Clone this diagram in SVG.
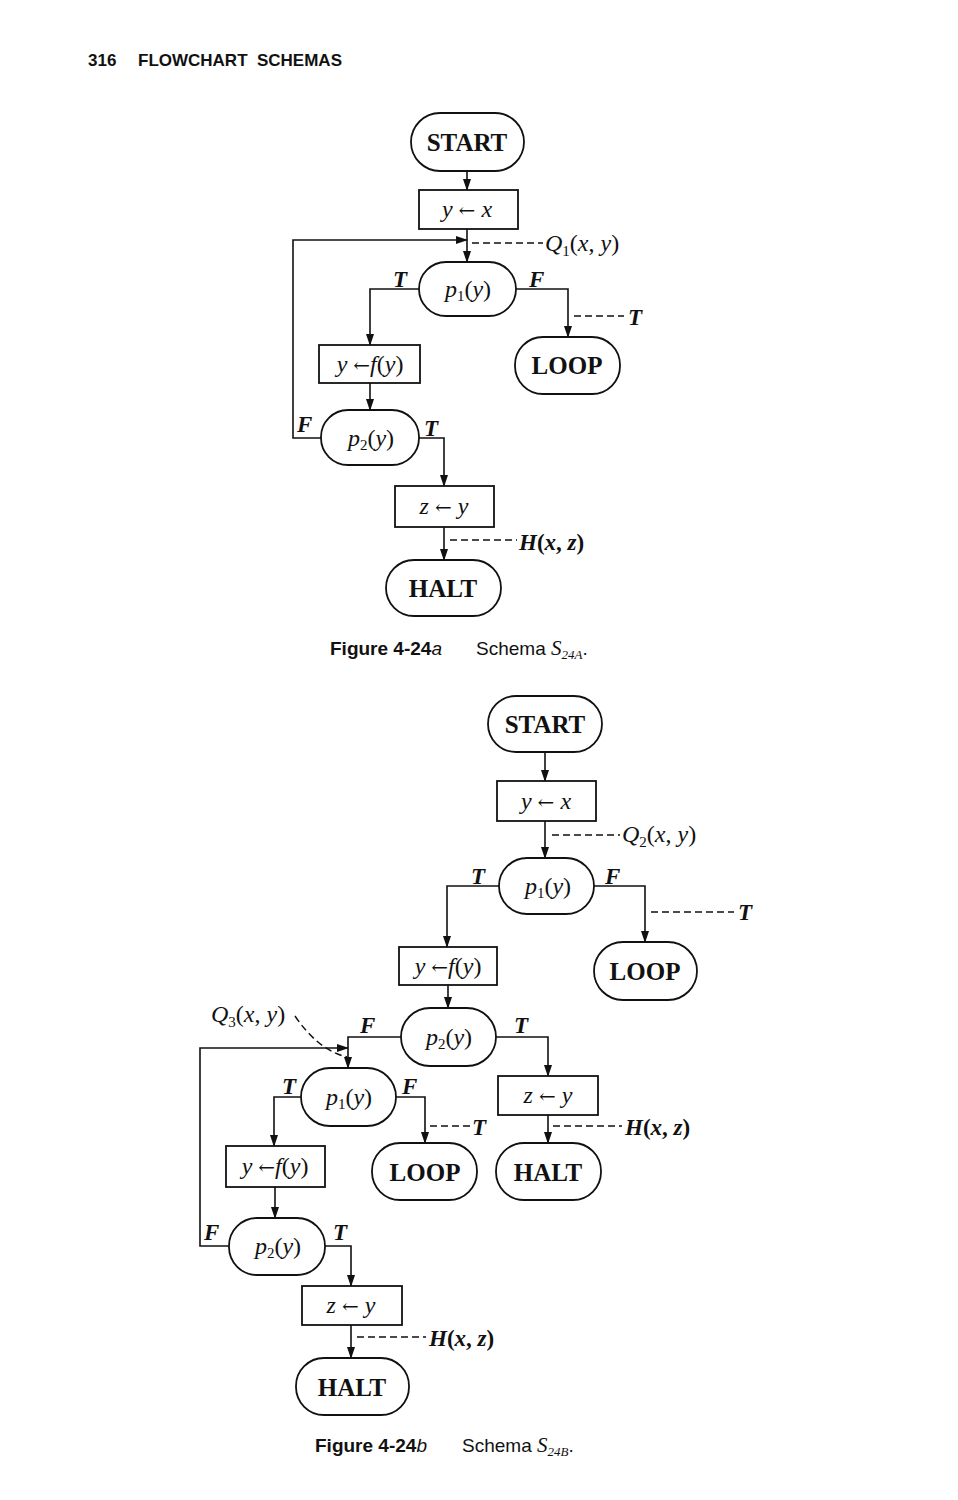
<svg xmlns="http://www.w3.org/2000/svg" width="958" height="1500" viewBox="0 0 958 1500">
<defs>
<marker id="arr" markerUnits="userSpaceOnUse" markerWidth="12" markerHeight="8" refX="11" refY="4" orient="auto">
<path d="M0,0 L12,4 L0,8 z" fill="#111"/>
</marker>
<style>
rect{fill:#fff;stroke:#111;stroke-width:1.8}
.c{fill:none;stroke:#111;stroke-width:1.6}
.d{fill:none;stroke:#111;stroke-width:1.5;stroke-dasharray:7,4}
.t{font-family:"Liberation Serif",serif;font-size:25px;font-weight:bold;fill:#111;text-anchor:middle}
.m{font-family:"Liberation Serif",serif;font-size:24px;font-style:italic;fill:#111;text-anchor:middle}
.l{font-family:"Liberation Serif",serif;font-size:23px;font-style:italic;font-weight:bold;fill:#111}
.a{font-family:"Liberation Serif",serif;font-size:24px;font-style:italic;fill:#111}
.n{font-style:normal}
.s{font-style:normal;font-size:15px}
.ar{font-family:"DejaVu Serif",serif;font-style:normal;font-weight:normal;font-size:20px}
.cap{font-family:"Liberation Sans",sans-serif;font-size:19px;fill:#111}
.hd{font-family:"Liberation Sans",sans-serif;font-size:17px;font-weight:bold;fill:#111}
</style>
</defs>
<text class="hd" x="88" y="66">316</text>
<text class="hd" x="138" y="66" xml:space="preserve">FLOWCHART  SCHEMAS</text>

<!-- Figure a -->
<g id="a-connectors">
<path class="c" d="M467,171 V190" marker-end="url(#arr)"/>
<path class="c" d="M467,229 V262" marker-end="url(#arr)"/>
<path class="c" d="M321,438 H293 V240 H467" marker-end="url(#arr)"/>
<path class="c" d="M419,289 H370 V345" marker-end="url(#arr)"/>
<path class="c" d="M516,289 H568 V337" marker-end="url(#arr)"/>
<path class="c" d="M370,383 V410" marker-end="url(#arr)"/>
<path class="c" d="M419,438 H444 V486" marker-end="url(#arr)"/>
<path class="c" d="M444,527 V560" marker-end="url(#arr)"/>
<path class="d" d="M472,243 H543"/>
<path class="d" d="M574,316 H624"/>
<path class="d" d="M450,540 H517"/>
<text class="l" x="393" y="287">T</text>
<text class="l" x="529" y="287">F</text>
<text class="l" x="297" y="432">F</text>
<text class="l" x="424" y="436">T</text>
<text class="a" x="545" y="251">Q<tspan class="s" dy="5">1</tspan><tspan dy="-5" class="n">(</tspan>x<tspan class="n">, </tspan>y<tspan class="n">)</tspan></text>
<text class="l" x="628" y="325">T</text>
<text class="l" x="519" y="550">H<tspan class="n">(</tspan>x<tspan class="n">, </tspan>z<tspan class="n">)</tspan></text>
</g>
<g id="a-start"><rect x="411" y="113" width="113" height="58" rx="29"/><text class="t" x="467" y="151">START</text></g>
<g id="a-yx"><rect x="419" y="190" width="99" height="39" rx="0"/><text class="m" x="467" y="217">y <tspan class="ar">←</tspan> x</text></g>
<g id="a-p1"><rect x="419" y="262" width="97" height="54" rx="27"/><text class="m" x="468" y="297">p<tspan class="s" dy="4">1</tspan><tspan dy="-4" class="n">(</tspan>y<tspan class="n">)</tspan></text></g>
<g id="a-loop"><rect x="515" y="337" width="105" height="57" rx="28"/><text class="t" x="567" y="374">LOOP</text></g>
<g id="a-fy"><rect x="319" y="345" width="101" height="38" rx="0"/><text class="m" x="370" y="372">y <tspan class="ar">←</tspan>f<tspan class="n">(</tspan>y<tspan class="n">)</tspan></text></g>
<g id="a-p2"><rect x="321" y="410" width="98" height="55" rx="27"/><text class="m" x="371" y="446">p<tspan class="s" dy="4">2</tspan><tspan dy="-4" class="n">(</tspan>y<tspan class="n">)</tspan></text></g>
<g id="a-zy"><rect x="395" y="486" width="99" height="41" rx="0"/><text class="m" x="444" y="514">z <tspan class="ar">←</tspan> y</text></g>
<g id="a-halt"><rect x="386" y="560" width="115" height="56" rx="28"/><text class="t" x="443" y="597">HALT</text></g>
<text class="cap" x="330" y="655"><tspan font-weight="bold">Figure 4-24</tspan><tspan font-style="italic">a</tspan></text>
<text class="cap" x="476" y="655">Schema <tspan font-family="Liberation Serif, serif" font-style="italic" font-size="21">S</tspan><tspan font-family="Liberation Serif, serif" font-style="italic" font-size="13" dy="4">24A</tspan><tspan dy="-4">.</tspan></text>

<!-- Figure b -->
<g id="b-connectors">
<path class="c" d="M545,752 V781" marker-end="url(#arr)"/>
<path class="c" d="M545,821 V858" marker-end="url(#arr)"/>
<path class="c" d="M499,886 H447 V947" marker-end="url(#arr)"/>
<path class="c" d="M594,886 H645 V942" marker-end="url(#arr)"/>
<path class="c" d="M448,985 V1008" marker-end="url(#arr)"/>
<path class="c" d="M401,1037 H348 V1068" marker-end="url(#arr)"/>
<path class="c" d="M496,1037 H548 V1076" marker-end="url(#arr)"/>
<path class="c" d="M229,1246 H200 V1048 H348" marker-end="url(#arr)"/>
<path class="c" d="M301,1097 H274 V1146" marker-end="url(#arr)"/>
<path class="c" d="M396,1097 H425 V1143" marker-end="url(#arr)"/>
<path class="c" d="M548,1115 V1143" marker-end="url(#arr)"/>
<path class="c" d="M275,1187 V1218" marker-end="url(#arr)"/>
<path class="c" d="M325,1246 H351 V1286" marker-end="url(#arr)"/>
<path class="c" d="M351,1325 V1358" marker-end="url(#arr)"/>
<path class="d" d="M552,835 H620"/>
<path class="d" d="M651,912 H734"/>
<path class="d" d="M430,1126 H472"/>
<path class="d" d="M553,1126 H622"/>
<path class="d" d="M357,1337 H426"/>
<path class="d" d="M295,1016 Q318,1050 347,1057"/>
<text class="l" x="471" y="884">T</text>
<text class="l" x="605" y="884">F</text>
<text class="l" x="360" y="1033">F</text>
<text class="l" x="514" y="1033">T</text>
<text class="l" x="282" y="1094">T</text>
<text class="l" x="402" y="1094">F</text>
<text class="l" x="204" y="1240">F</text>
<text class="l" x="333" y="1240">T</text>
<text class="a" x="622" y="842">Q<tspan class="s" dy="5">2</tspan><tspan dy="-5" class="n">(</tspan>x<tspan class="n">, </tspan>y<tspan class="n">)</tspan></text>
<text class="a" x="211" y="1022">Q<tspan class="s" dy="5">3</tspan><tspan dy="-5" class="n">(</tspan>x<tspan class="n">, </tspan>y<tspan class="n">)</tspan></text>
<text class="l" x="738" y="920">T</text>
<text class="l" x="472" y="1135">T</text>
<text class="l" x="625" y="1135">H<tspan class="n">(</tspan>x<tspan class="n">, </tspan>z<tspan class="n">)</tspan></text>
<text class="l" x="429" y="1346">H<tspan class="n">(</tspan>x<tspan class="n">, </tspan>z<tspan class="n">)</tspan></text>
</g>
<g id="b-start"><rect x="488" y="696" width="114" height="56" rx="28"/><text class="t" x="545" y="733">START</text></g>
<g id="b-yx"><rect x="497" y="781" width="99" height="40" rx="0"/><text class="m" x="546" y="809">y <tspan class="ar">←</tspan> x</text></g>
<g id="b-p1"><rect x="499" y="858" width="95" height="56" rx="28"/><text class="m" x="548" y="894">p<tspan class="s" dy="4">1</tspan><tspan dy="-4" class="n">(</tspan>y<tspan class="n">)</tspan></text></g>
<g id="b-loop1"><rect x="594" y="942" width="103" height="58" rx="29"/><text class="t" x="645" y="980">LOOP</text></g>
<g id="b-fy1"><rect x="399" y="947" width="98" height="38" rx="0"/><text class="m" x="448" y="974">y <tspan class="ar">←</tspan>f<tspan class="n">(</tspan>y<tspan class="n">)</tspan></text></g>
<g id="b-p2"><rect x="401" y="1008" width="95" height="58" rx="29"/><text class="m" x="449" y="1045">p<tspan class="s" dy="4">2</tspan><tspan dy="-4" class="n">(</tspan>y<tspan class="n">)</tspan></text></g>
<g id="b-p1b"><rect x="301" y="1068" width="95" height="58" rx="29"/><text class="m" x="349" y="1105">p<tspan class="s" dy="4">1</tspan><tspan dy="-4" class="n">(</tspan>y<tspan class="n">)</tspan></text></g>
<g id="b-zy1"><rect x="498" y="1076" width="100" height="39" rx="0"/><text class="m" x="548" y="1103">z <tspan class="ar">←</tspan> y</text></g>
<g id="b-loop2"><rect x="372" y="1143" width="105" height="57" rx="28"/><text class="t" x="425" y="1181">LOOP</text></g>
<g id="b-halt1"><rect x="496" y="1143" width="105" height="57" rx="28"/><text class="t" x="548" y="1181">HALT</text></g>
<g id="b-fy2"><rect x="226" y="1146" width="99" height="41" rx="0"/><text class="m" x="275" y="1174">y <tspan class="ar">←</tspan>f<tspan class="n">(</tspan>y<tspan class="n">)</tspan></text></g>
<g id="b-p2b"><rect x="229" y="1218" width="96" height="57" rx="28"/><text class="m" x="278" y="1254">p<tspan class="s" dy="4">2</tspan><tspan dy="-4" class="n">(</tspan>y<tspan class="n">)</tspan></text></g>
<g id="b-zy2"><rect x="302" y="1286" width="100" height="39" rx="0"/><text class="m" x="351" y="1313">z <tspan class="ar">←</tspan> y</text></g>
<g id="b-halt2"><rect x="296" y="1358" width="113" height="57" rx="28"/><text class="t" x="352" y="1396">HALT</text></g>
<text class="cap" x="315" y="1452"><tspan font-weight="bold">Figure 4-24</tspan><tspan font-style="italic">b</tspan></text>
<text class="cap" x="462" y="1452">Schema <tspan font-family="Liberation Serif, serif" font-style="italic" font-size="21">S</tspan><tspan font-family="Liberation Serif, serif" font-style="italic" font-size="13" dy="4">24B</tspan><tspan dy="-4">.</tspan></text>
</svg>
